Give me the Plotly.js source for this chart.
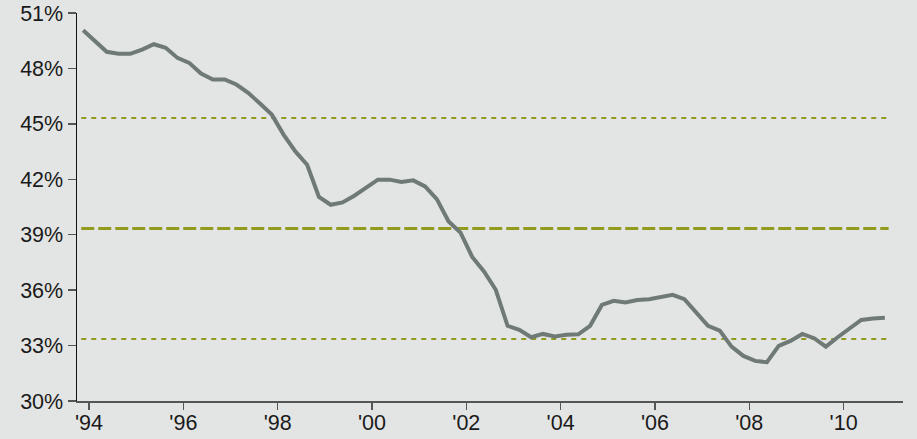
<!DOCTYPE html>
<html>
<head>
<meta charset="utf-8">
<script src="https://cdn.plot.ly/plotly-3.0.1.min.js"></script>
<style>
  html, body { margin: 0; padding: 0; background: #e3e5e4; }
  #chart { width: 917px; height: 439px; }
</style>
</head>
<body>
<div id="chart"></div>
<script>
// Quarterly observations, Q4 1993 .. Q4 2010 (mid-quarter dates)
const startYear = 1993.875;
const values = [
  50.07, 49.47, 48.90, 48.79, 48.79, 49.02, 49.31, 49.12, 48.57, 48.30,
  47.72, 47.40, 47.40, 47.13, 46.68, 46.10, 45.50, 44.42, 43.51, 42.79,
  41.04, 40.62, 40.75, 41.11, 41.53, 41.98, 41.98, 41.85, 41.94, 41.61,
  40.93, 39.72, 39.12, 37.80, 37.01, 36.02, 34.07, 33.85, 33.45, 33.63,
  33.49, 33.58, 33.61, 34.07, 35.20, 35.42, 35.33, 35.47, 35.51, 35.62,
  35.75, 35.51, 34.79, 34.07, 33.81, 32.94, 32.44, 32.17, 32.10, 32.98,
  33.25, 33.63, 33.40, 32.94, 33.45, 33.89, 34.39, 34.46, 34.51
];
const dates = values.map((v, i) => startYear + i * 0.25);

const meanValue = 39.34;
const upperBand = 45.32;
const lowerBand = 33.36;

const xTickVals = [1994, 1996, 1998, 2000, 2002, 2004, 2006, 2008, 2010];
const xTickText = ["'94", "'96", "'98", "'00", "'02", "'04", "'06", "'08", "'10"];
const yTickVals = [30, 33, 36, 39, 42, 45, 48, 51];
const yTickText = ["30%", "33%", "36%", "39%", "42%", "45%", "48%", "51%"];

const lineStart = dates[0] - 0.04;
const lineEnd = dates[dates.length - 1] + 0.08;

const olive = '#939b1f';

const traces = [
  {
    x: [lineStart, lineEnd], y: [upperBand, upperBand],
    mode: 'lines', line: {color: olive, width: 2, dash: '5px,5px'},
    hoverinfo: 'skip', showlegend: false
  },
  {
    x: [lineStart, lineEnd], y: [lowerBand, lowerBand],
    mode: 'lines', line: {color: olive, width: 2, dash: '5px,5px'},
    hoverinfo: 'skip', showlegend: false
  },
  {
    x: [lineStart, lineEnd], y: [meanValue, meanValue],
    mode: 'lines', line: {color: olive, width: 3, dash: '13px,4px'},
    hoverinfo: 'skip', showlegend: false
  },
  {
    x: dates, y: values,
    mode: 'lines', line: {color: '#6f7a76', width: 4},
    showlegend: false
  }
];

const layout = {
  width: 917, height: 439,
  paper_bgcolor: '#e3e5e4',
  plot_bgcolor: '#e3e5e4',
  margin: {l: 77, r: 14, t: 13, b: 38},
  font: {family: 'Arial', size: 21.5, color: '#1a1a1a'},
  xaxis: {
    range: [1993.745, 2011.26],
    tickmode: 'array', tickvals: xTickVals, ticktext: xTickText,
    ticks: 'outside', ticklen: 7, tickwidth: 1.5, tickcolor: '#555',
    ticklabelstandoff: -5,
    showline: true, linecolor: '#555', linewidth: 1.5,
    showgrid: false, zeroline: false,
    tickfont: {family: 'Arial', size: 21.5, color: '#1a1a1a'}
  },
  yaxis: {
    range: [30, 51],
    tickmode: 'array', tickvals: yTickVals, ticktext: yTickText,
    ticks: 'outside', ticklen: 8, tickwidth: 1.5, tickcolor: '#555',
    showline: true, linecolor: '#111', linewidth: 1.5,
    showgrid: false, zeroline: false,
    tickfont: {family: 'Arial', size: 21.5, color: '#1a1a1a'}
  }
};

Plotly.newPlot('chart', traces, layout, {displayModeBar: false, staticPlot: true});
</script>
</body>
</html>
